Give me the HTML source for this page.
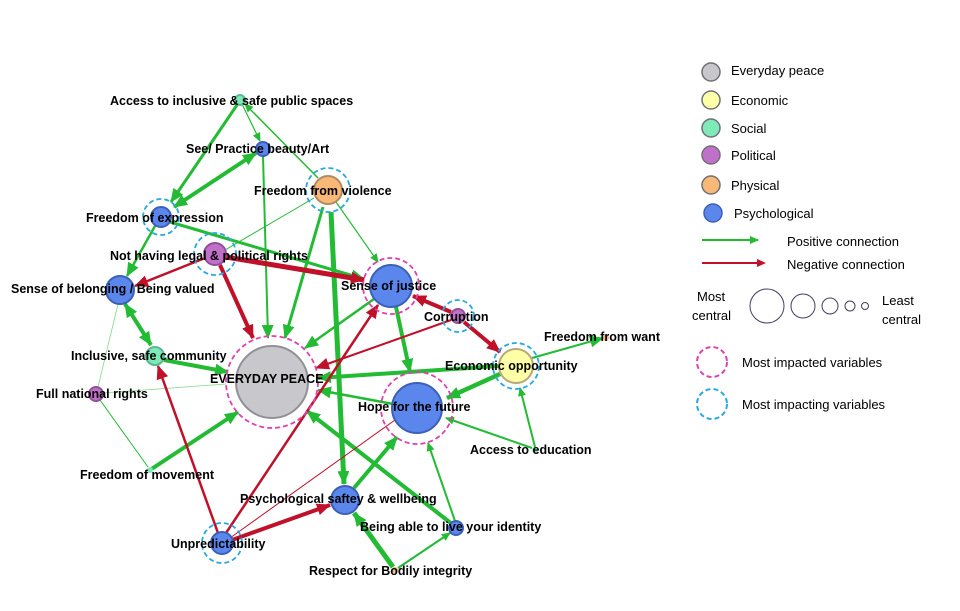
<!DOCTYPE html>
<html><head><meta charset="utf-8"><style>
html,body{margin:0;padding:0;background:#fff;}
svg{display:block;}
text{font-family:"Liberation Sans",Arial,sans-serif;}
.l{font-size:12.5px;font-weight:bold;fill:#000;}
.g{font-size:13px;fill:#000;}
</style></head><body>
<svg width="960" height="611" viewBox="0 0 960 611" xmlns="http://www.w3.org/2000/svg">
<defs>
<marker id="mg" markerUnits="userSpaceOnUse" markerWidth="14" markerHeight="12" refX="13" refY="6" orient="auto-start-reverse"><path d="M0,0 L14,6 L0,12 z" fill="#22bb33"/></marker>
<marker id="mr" markerUnits="userSpaceOnUse" markerWidth="14" markerHeight="12" refX="13" refY="6" orient="auto-start-reverse"><path d="M0,0 L14,6 L0,12 z" fill="#c0102a"/></marker>
<marker id="ms" markerUnits="userSpaceOnUse" markerWidth="9" markerHeight="8" refX="8" refY="4" orient="auto"><path d="M0,0 L9,4 L0,8 z" fill="#22bb33"/></marker>
</defs>
<g fill="none" stroke-linecap="butt">
<g stroke="#22bb33">
<line x1="237" y1="105" x2="171" y2="202" stroke-width="3" marker-end="url(#mg)"/>
<line x1="242" y1="104" x2="260" y2="141" stroke-width="1.2" marker-end="url(#ms)"/>
<line x1="318" y1="178" x2="245" y2="104" stroke-width="1.5" marker-end="url(#ms)"/>
<line x1="256" y1="153" x2="174" y2="207" stroke-width="4" marker-end="url(#mg)" marker-start="url(#mg)"/>
<line x1="263" y1="156" x2="268" y2="338" stroke-width="2" marker-end="url(#mg)"/>
<line x1="323" y1="207" x2="285" y2="338" stroke-width="3" marker-end="url(#mg)"/>
<line x1="331" y1="212" x2="344" y2="484" stroke-width="5" marker-end="url(#mg)"/>
<line x1="336" y1="202" x2="378" y2="262" stroke-width="1.2" marker-end="url(#ms)"/>
<line x1="314" y1="198" x2="225" y2="250" stroke-width="1"/>
<line x1="170" y1="222" x2="364" y2="279" stroke-width="3" marker-end="url(#mg)"/>
<line x1="155" y1="226" x2="127" y2="276" stroke-width="2.5" marker-end="url(#mg)"/>
<line x1="125" y1="304" x2="151" y2="345" stroke-width="4" marker-end="url(#mg)" marker-start="url(#mg)"/>
<line x1="118" y1="304" x2="98" y2="387" stroke-width="0.8" stroke="#7fd88a"/>
<line x1="164" y1="360" x2="228" y2="372" stroke-width="4" marker-end="url(#mg)"/>
<line x1="103" y1="393" x2="226" y2="384" stroke-width="0.8" stroke="#7fd88a"/>
<line x1="374" y1="299" x2="305" y2="348" stroke-width="2.5" marker-end="url(#mg)"/>
<line x1="396" y1="307" x2="410" y2="372" stroke-width="4" marker-end="url(#mg)"/>
<line x1="499" y1="366" x2="318" y2="378" stroke-width="4" marker-end="url(#mg)"/>
<line x1="500" y1="374" x2="447" y2="398" stroke-width="4.5" marker-end="url(#mg)"/>
<line x1="532" y1="358" x2="603" y2="338" stroke-width="2" marker-end="url(#mg)"/>
<line x1="535" y1="447" x2="520" y2="388" stroke-width="2" marker-end="url(#ms)"/>
<line x1="532" y1="448" x2="446" y2="418" stroke-width="2" marker-end="url(#ms)"/>
<line x1="393" y1="404" x2="318" y2="390" stroke-width="2.5" marker-end="url(#mg)"/>
<line x1="150" y1="470" x2="238" y2="412" stroke-width="4" marker-end="url(#mg)"/>
<line x1="148" y1="467" x2="100" y2="400" stroke-width="1"/>
<line x1="354" y1="488" x2="397" y2="437" stroke-width="4" marker-end="url(#mg)"/>
<line x1="452" y1="524" x2="307" y2="411" stroke-width="4" marker-end="url(#mg)"/>
<line x1="455" y1="521" x2="428" y2="443" stroke-width="2" marker-end="url(#ms)"/>
<line x1="393" y1="567" x2="354" y2="513" stroke-width="5" marker-end="url(#mg)"/>
<line x1="398" y1="568" x2="450" y2="533" stroke-width="2" marker-end="url(#ms)"/>
</g>
<g stroke="#c0102a">
<line x1="226" y1="257" x2="364" y2="280" stroke-width="5" marker-end="url(#mr)"/>
<line x1="220" y1="265" x2="253" y2="338" stroke-width="4" marker-end="url(#mr)"/>
<line x1="205" y1="258" x2="135" y2="286" stroke-width="2.5" marker-end="url(#mr)"/>
<line x1="451" y1="312" x2="413" y2="296" stroke-width="4" marker-end="url(#mr)"/>
<line x1="464" y1="322" x2="500" y2="352" stroke-width="4" marker-end="url(#mr)"/>
<line x1="451" y1="320" x2="316" y2="368" stroke-width="2" marker-end="url(#mr)"/>
<line x1="218" y1="533" x2="158" y2="366" stroke-width="2.5" marker-end="url(#mr)"/>
<line x1="226" y1="533" x2="378" y2="305" stroke-width="2.5" marker-end="url(#mr)"/>
<line x1="232" y1="540" x2="330" y2="505" stroke-width="4" marker-end="url(#mr)"/>
<line x1="230" y1="538" x2="395" y2="420" stroke-width="1"/>
</g>
</g>
<!-- nodes -->
<g stroke-width="2">
<circle cx="240" cy="100" r="5" fill="#7eeab8" stroke="#5cb890"/>
<circle cx="263" cy="149" r="7" fill="#5b86ec" stroke="#3c5fb8"/>
<circle cx="328" cy="190" r="14" fill="#f8b878" stroke="#b08a60"/>
<circle cx="161" cy="217" r="10" fill="#5b86ec" stroke="#3c5fb8"/>
<circle cx="215" cy="254" r="11" fill="#c070c8" stroke="#905098"/>
<circle cx="120" cy="290" r="14" fill="#5b86ec" stroke="#3c5fb8"/>
<circle cx="391" cy="286" r="21" fill="#5b86ec" stroke="#3c5fb8"/>
<circle cx="458" cy="316" r="7" fill="#c070c8" stroke="#905098"/>
<circle cx="606" cy="338" r="3" fill="#f8b878"/>
<circle cx="516" cy="366" r="17" fill="#ffffa8" stroke="#b8a878"/>
<circle cx="155" cy="356" r="9" fill="#7eeab8" stroke="#5cb890"/>
<circle cx="272" cy="382" r="36" fill="#c8c8cc" stroke="#909096"/>
<circle cx="96" cy="394" r="7" fill="#c070c8" stroke="#905098"/>
<circle cx="417" cy="408" r="25" fill="#5b86ec" stroke="#3c5fb8"/>
<circle cx="535" cy="450" r="3" fill="#7eeab8"/>
<circle cx="150" cy="470" r="3" fill="#7eeab8"/>
<circle cx="345" cy="500" r="14" fill="#5b86ec" stroke="#3c5fb8"/>
<circle cx="456" cy="528" r="7" fill="#5b86ec" stroke="#3c5fb8"/>
<circle cx="222" cy="543" r="11" fill="#5b86ec" stroke="#3c5fb8"/>
<circle cx="395" cy="570" r="3" fill="#f8b878"/>
</g>
<g fill="none" stroke-width="1.8" stroke-dasharray="5,3">
<g stroke="#29a8e0">
<circle cx="328" cy="190" r="22"/>
<circle cx="161" cy="217" r="18"/>
<circle cx="215" cy="254" r="21"/>
<circle cx="458" cy="316" r="16"/>
<circle cx="516" cy="366" r="23"/>
<circle cx="222" cy="543" r="20"/>
</g>
<g stroke="#e040b0">
<circle cx="391" cy="286" r="28"/>
<circle cx="272" cy="382" r="46"/>
<circle cx="417" cy="408" r="36"/>
</g>
</g>
<!-- labels -->
<g class="l">
<text x="110" y="105">Access to inclusive &amp; safe public spaces</text>
<text x="186" y="153">See/ Practice beauty/Art</text>
<text x="254" y="195">Freedom from violence</text>
<text x="86" y="222">Freedom of expression</text>
<text x="110" y="260">Not having legal &amp; political rights</text>
<text x="11" y="293">Sense of belonging / Being valued</text>
<text x="341" y="290">Sense of justice</text>
<text x="424" y="321">Corruption</text>
<text x="544" y="341">Freedom from want</text>
<text x="445" y="370">Economic opportunity</text>
<text x="71" y="360">Inclusive, safe community</text>
<text x="210" y="383">EVERYDAY PEACE</text>
<text x="36" y="398">Full national rights</text>
<text x="358" y="411">Hope for the future</text>
<text x="470" y="454">Access to education</text>
<text x="80" y="479">Freedom of movement</text>
<text x="240" y="503">Psychological saftey &amp; wellbeing</text>
<text x="360" y="531">Being able to live your identity</text>
<text x="171" y="548">Unpredictability</text>
<text x="309" y="575">Respect for Bodily integrity</text>
</g>
<!-- legend -->
<g stroke-width="1.5">
<circle cx="711" cy="72" r="9" fill="#c8c8cc" stroke="#707076"/>
<circle cx="711" cy="100" r="9" fill="#ffffa8" stroke="#707076"/>
<circle cx="711" cy="128" r="9" fill="#7eeab8" stroke="#707076"/>
<circle cx="711" cy="155" r="9" fill="#c070c8" stroke="#707076"/>
<circle cx="711" cy="185" r="9" fill="#f8b878" stroke="#707076"/>
<circle cx="713" cy="213" r="9" fill="#5b86ec" stroke="#3c5fb8"/>
</g>
<g class="g">
<text x="731" y="75">Everyday peace</text>
<text x="731" y="105">Economic</text>
<text x="731" y="133">Social</text>
<text x="731" y="160">Political</text>
<text x="731" y="190">Physical</text>
<text x="734" y="218">Psychological</text>
<text x="787" y="246">Positive connection</text>
<text x="787" y="269">Negative connection</text>
<text x="697" y="301">Most</text>
<text x="692" y="320">central</text>
<text x="882" y="305">Least</text>
<text x="882" y="324">central</text>
<text x="742" y="367">Most impacted  variables</text>
<text x="742" y="409">Most impacting variables</text>
</g>
<line x1="702" y1="240" x2="758" y2="240" stroke="#22bb33" stroke-width="2" marker-end="url(#ms)"/>
<line x1="702" y1="263" x2="758" y2="263" stroke="#c0102a" stroke-width="2"/>
<path d="M757,259 L766,263 L757,267 z" fill="#c0102a"/>
<g fill="none" stroke="#404060" stroke-width="1">
<circle cx="767" cy="306" r="17"/>
<circle cx="803" cy="306" r="12"/>
<circle cx="830" cy="306" r="8"/>
<circle cx="850" cy="306" r="5"/>
<circle cx="865" cy="306" r="3.5"/>
</g>
<circle cx="712" cy="362" r="15" fill="none" stroke="#e040b0" stroke-width="2" stroke-dasharray="5,3"/>
<circle cx="712" cy="404" r="15" fill="none" stroke="#29a8e0" stroke-width="2" stroke-dasharray="5,3"/>
</svg>
</body></html>
